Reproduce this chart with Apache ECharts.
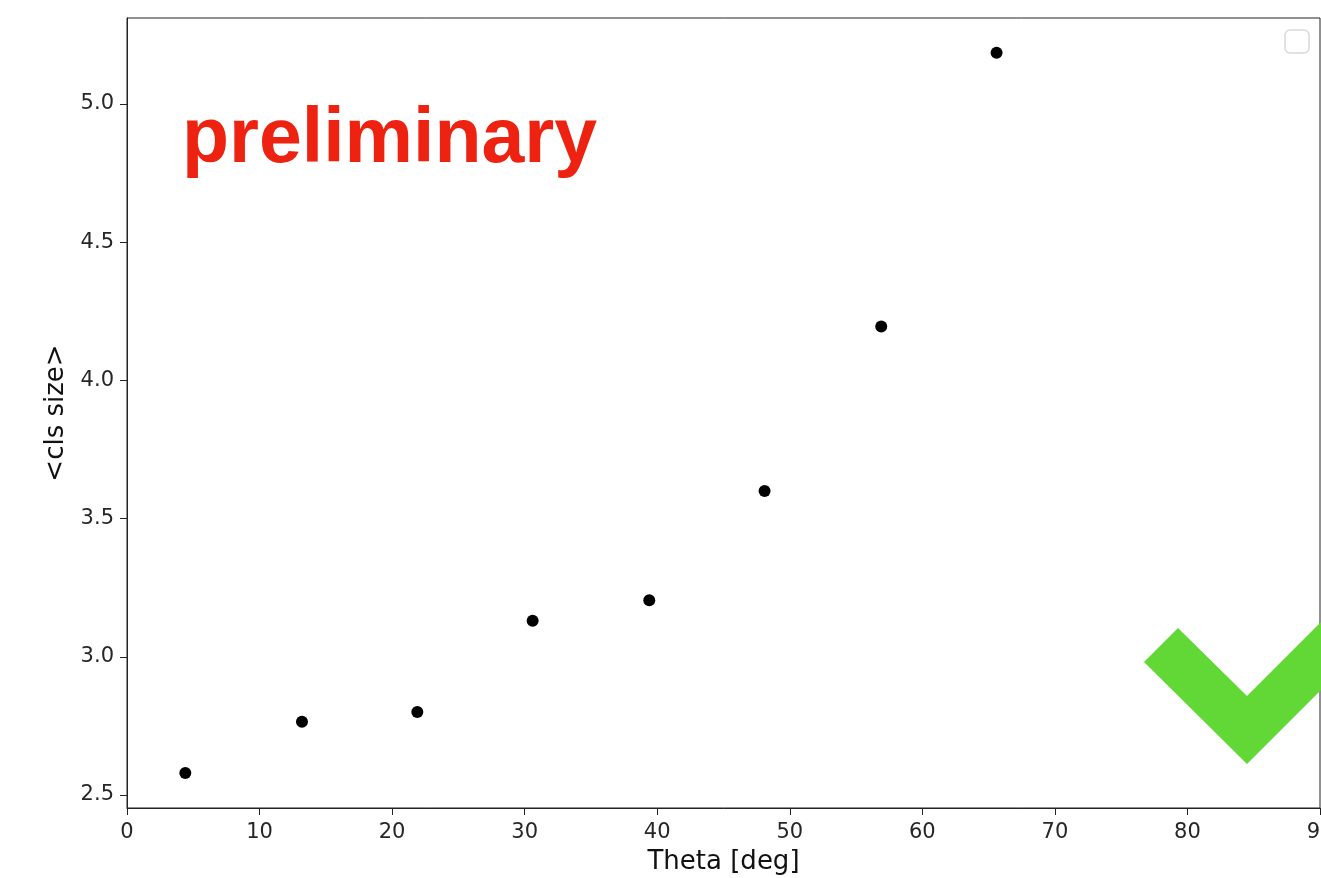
<!DOCTYPE html>
<html>
<head>
<meta charset="utf-8">
<script src="https://cdn.jsdelivr.net/npm/echarts@6/dist/echarts.min.js"></script>
<style>
html,body{margin:0;padding:0;background:#fff;}
#chart{width:1321px;height:878px;}
</style>
</head>
<body>
<div id="chart"></div>
<script>
const thetaValues = [4.4, 13.2, 21.9, 30.6, 39.4, 48.1, 56.9, 65.6];
const clsSizeValues = [2.58, 2.765, 2.80, 3.13, 3.205, 3.60, 4.195, 5.185];
const yTickValues = [2.5, 3.0, 3.5, 4.0, 4.5, 5.0];
const xAxisTitle = 'Theta [deg]';
const yAxisTitle = '<cls size>';
const watermarkText = 'preliminary';

const points = thetaValues.map((t, i) => [t, clsSizeValues[i]]);
const font = 'DejaVu Sans';

const chart = echarts.init(document.getElementById('chart'), null, {renderer: 'canvas'});
chart.setOption({
  animation: false,
  backgroundColor: '#fff',
  grid: {left: 127, top: 18, right: 1, bottom: 70, show: true, borderColor: '#222', borderWidth: 1,
    backgroundColor: 'transparent', outerBoundsMode: 'none', containLabel: false},
  xAxis: {
    type: 'value', min: 0, max: 90, interval: 10,
    name: xAxisTitle, nameLocation: 'middle', nameGap: 41,
    nameTextStyle: {fontFamily: font, fontSize: 26, color: '#111'},
    axisLine: {show: true, onZero: false, lineStyle: {color: '#222', width: 1}},
    axisTick: {show: true, length: 7, lineStyle: {color: '#222'}},
    axisLabel: {fontFamily: font, fontSize: 21, color: '#262626', margin: 14},
    splitLine: {show: false}
  },
  yAxis: {
    type: 'value', min: 2.453, max: 5.311,
    name: yAxisTitle, nameLocation: 'middle', nameGap: 51,
    nameTextStyle: {fontFamily: font, fontSize: 26, color: '#111'},
    axisLine: {show: true, onZero: false, lineStyle: {color: '#222', width: 1}},
    axisTick: {show: true, length: 7, customValues: yTickValues, lineStyle: {color: '#222'}},
    axisLabel: {fontFamily: font, fontSize: 21, color: '#262626', margin: 13, customValues: yTickValues,
      formatter: v => v.toFixed(1)},
    splitLine: {show: false}
  },
  series: [{
    type: 'scatter', data: points, symbol: 'circle', symbolSize: 12,
    itemStyle: {color: '#000', opacity: 1}, z: 5
  }],
  graphic: [
    {type: 'text', x: 182, y: 141, z: 10,
      style: {text: watermarkText, fontFamily: 'Arial, "Liberation Sans", Helvetica, sans-serif', fontWeight: 'bold', fontSize: 77,
        fill: '#EE2211', verticalAlign: 'middle', align: 'left'}},
    {type: 'polygon', z: 10,
      shape: {points: [[1144, 662], [1178, 628], [1247, 696], [1330, 613], [1330, 681], [1247, 764]]},
      style: {fill: '#61D836'}},
    {type: 'rect', z: 10,
      shape: {x: 1285, y: 30, width: 24, height: 23, r: 5},
      style: {fill: '#fff', stroke: '#d9d9d9', lineWidth: 1.5}}
  ]
});
</script>
</body>
</html>
